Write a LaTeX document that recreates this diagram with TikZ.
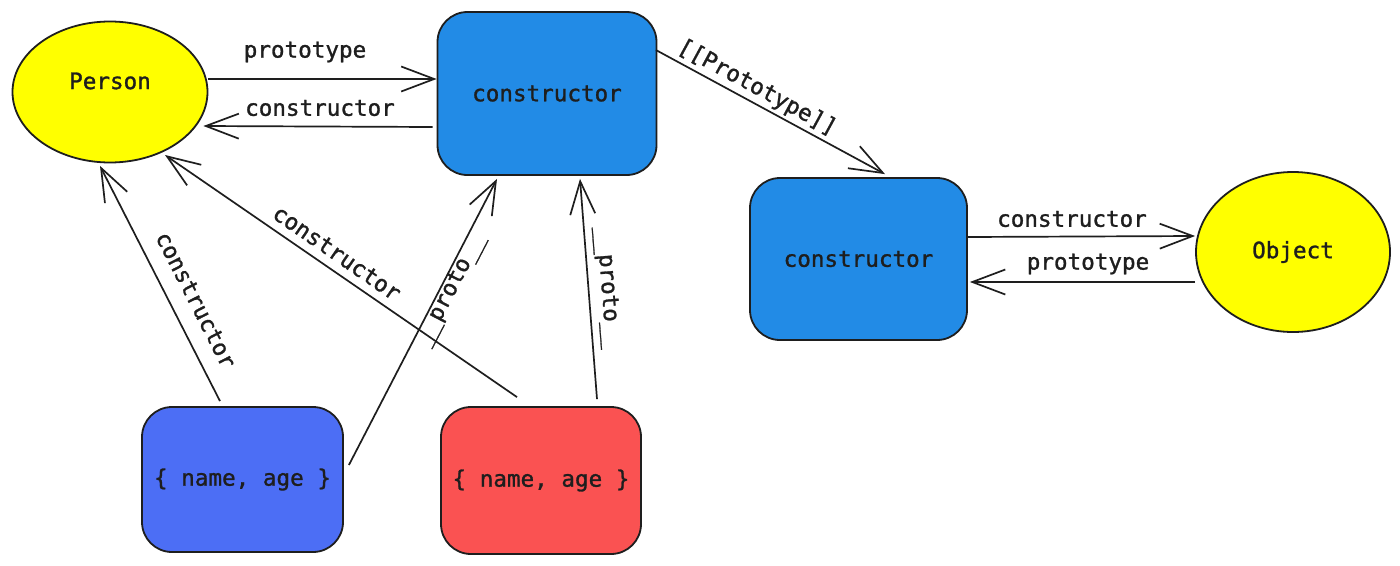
\documentclass[tikz,border=0pt]{standalone}
\usepackage{fontspec}
\setmonofont[FakeBold=1.2]{DejaVu Sans Mono}
\usetikzlibrary{arrows.meta,shapes.geometric,calc}
\definecolor{ink}{HTML}{1E1E1E}
\definecolor{yel}{HTML}{FFFF00}
\definecolor{bluebox}{HTML}{228BE6}
\definecolor{indigobox}{HTML}{4C6EF5}
\definecolor{redbox}{HTML}{FA5252}
\tikzset{
  txt/.style={font=\ttfamily\fontsize{22.6}{27}\selectfont, text=ink},
  ell/.style={ellipse, draw=ink, line width=1.8pt, fill=yel, inner sep=0pt},
  rbox/.style={rectangle, rounded corners=30pt, draw=ink, line width=1.8pt, inner sep=0pt, txt},
  arr/.style={draw=ink, line width=1.7pt, -{Straight Barb[length=33pt,width=25pt]}},
  lbl/.style={txt, inner sep=0pt},
}
\begin{document}
\begin{tikzpicture}[x=1pt,y=-1pt]
\useasboundingbox (0,0) rectangle (1400,565);
\fill[white] (0,0) rectangle (1400,565);
% nodes
\node[ell, minimum width=195pt, minimum height=141pt] (person) at (110,92) {};
\node[txt] (personlbl) at (110,81) {Person};
\node[rbox, fill=bluebox, minimum width=219pt, minimum height=163pt] (c1) at (547,93.5) {constructor};
\node[rbox, fill=bluebox, minimum width=217pt, minimum height=162pt] (c2) at (858.5,259) {constructor};
\node[ell, minimum width=194pt, minimum height=160pt] (object) at (1293,252) {};
\node[txt] (objectlbl) at (1293,252) {Object};
\node[rbox, fill=indigobox, minimum width=201pt, minimum height=145pt] (inst1) at (242.5,479.5) {\{ name, age \}};
\node[rbox, fill=redbox, minimum width=200pt, minimum height=147pt] (inst2) at (541,480.5) {\{ name, age \}};
% connectors
\draw[arr] ([yshift=13pt]person.east) -- ([yshift=14.5pt]c1.west);
\draw[arr] ([xshift=-4pt,yshift=-33.5pt]c1.west) -- ([xshift=-5pt,yshift=-34pt]person.east);
\draw[arr] ([xshift=-1.5pt,yshift=43.5pt]c1.east) -- ([xshift=26.5pt,yshift=3pt]c2.north);
\draw[arr] ([yshift=22pt]c2.east) -- ([yshift=16pt]object.west);
\draw[arr] ([yshift=-30pt]object.west) -- ([xshift=2pt,yshift=-23pt]c2.east);
\draw[arr] ([xshift=-22.5pt,yshift=5pt]inst1.north) -- ([xshift=-10pt,yshift=-2.5pt]person.south);
\draw[arr] ([xshift=5pt,yshift=14.5pt]inst1.east) -- ([xshift=-50pt,yshift=-3pt]c1.south);
\draw[arr] ([xshift=-24pt,yshift=9pt]inst2.north) -- ([xshift=55pt,yshift=-63pt]person.center);
\draw[arr] ([xshift=56pt,yshift=7pt]inst2.north) -- ([xshift=33pt,yshift=-3pt]c1.south);
% labels
\node[lbl] (l1) at (305,52) {prototype};
\node[lbl] (l2) at (320,108) {constructor};
\node[lbl, rotate=-28.5] (l3) at (757,88) {[[Prototype]]};
\node[lbl] (l4) at (1072,219) {constructor};
\node[lbl] (l5) at (1088,264) {prototype};
\node[lbl, rotate=-63] (l6) at (196,300) {constructor};
\node[lbl, rotate=-34.6] (l7) at (337,253) {constructor};
\node[lbl, rotate=62.6] (l8) at (451,290) {\_\_proto\_\_};
\node[lbl, rotate=-85.6] (l9) at (607,288) {\_\_proto\_\_};
\end{tikzpicture}
\end{document}
